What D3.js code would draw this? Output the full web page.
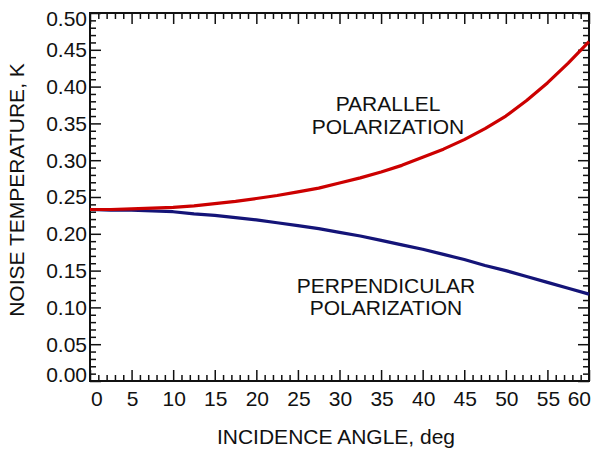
<!DOCTYPE html>
<html>
<head>
<meta charset="utf-8">
<script src="https://cdn.jsdelivr.net/npm/d3@7"></script>
<style>
  html, body { margin: 0; padding: 0; background: #fff; }
  svg text { font-family: "Liberation Sans", Arial, Helvetica, sans-serif; fill: #111; }
</style>
</head>
<body>
<svg id="chart" width="596" height="450"></svg>
<script>
// ---- data ----
const angles = [0, 2.5, 5, 7.5, 10, 12.5, 15, 17.5, 20, 22.5, 25, 27.5, 30, 32.5, 35, 37.5, 40, 42.5, 45, 47.5, 50, 52.5, 55, 57.5, 60];
const parallel = [0.233, 0.233, 0.234, 0.235, 0.236, 0.238, 0.241, 0.244, 0.248, 0.252, 0.257, 0.262, 0.269, 0.276, 0.284, 0.293, 0.304, 0.315, 0.328, 0.343, 0.360, 0.381, 0.405, 0.432, 0.461];
const perpendicular = [0.233, 0.232, 0.232, 0.231, 0.230, 0.227, 0.225, 0.222, 0.219, 0.215, 0.211, 0.207, 0.202, 0.197, 0.191, 0.185, 0.179, 0.172, 0.165, 0.157, 0.150, 0.142, 0.134, 0.126, 0.118];
const xTicks = [0, 5, 10, 15, 20, 25, 30, 35, 40, 45, 50, 55, 60];
const yTicks = [0.00, 0.05, 0.10, 0.15, 0.20, 0.25, 0.30, 0.35, 0.40, 0.45, 0.50];
const xTitle = "INCIDENCE ANGLE, deg";
const yTitle = "NOISE TEMPERATURE, K";
const labelParallel = ["PARALLEL", "POLARIZATION"];
const labelPerp = ["PERPENDICULAR", "POLARIZATION"];

// ---- layout ----
const L = 90, R = 589, T = 13, B = 381;
const svg = d3.select("#chart");
const x = d3.scaleLinear().domain([0, 60]).range([L, R]);
const y = d3.scaleLinear().domain([0, 0.5]).range([B, T]);

const majorLen = 11, minorLen = 6;
const xMinor = d3.range(0, 61, 1).filter(v => v % 5 !== 0);
const yMinor = d3.range(0, 51, 1).filter(v => v % 5 !== 0).map(v => v / 100);

function styleAxis(g) {
  g.select(".domain").remove();
  g.selectAll(".tick line").attr("stroke", "#111").attr("stroke-width", 1.5);
  g.selectAll(".tick text").remove();
}
// bottom
svg.append("g").attr("transform", `translate(0,${B})`)
  .call(d3.axisBottom(x).tickValues(xTicks).tickSize(-majorLen)).call(styleAxis);
svg.append("g").attr("transform", `translate(0,${B})`)
  .call(d3.axisBottom(x).tickValues(xMinor).tickSize(-minorLen)).call(styleAxis);
// top
svg.append("g").attr("transform", `translate(0,${T})`)
  .call(d3.axisTop(x).tickValues(xTicks).tickSize(-majorLen)).call(styleAxis);
svg.append("g").attr("transform", `translate(0,${T})`)
  .call(d3.axisTop(x).tickValues(xMinor).tickSize(-minorLen)).call(styleAxis);
// left
svg.append("g").attr("transform", `translate(${L},0)`)
  .call(d3.axisLeft(y).tickValues(yTicks).tickSize(-majorLen)).call(styleAxis);
svg.append("g").attr("transform", `translate(${L},0)`)
  .call(d3.axisLeft(y).tickValues(yMinor).tickSize(-minorLen)).call(styleAxis);
// right
svg.append("g").attr("transform", `translate(${R},0)`)
  .call(d3.axisRight(y).tickValues(yTicks).tickSize(-majorLen)).call(styleAxis);
svg.append("g").attr("transform", `translate(${R},0)`)
  .call(d3.axisRight(y).tickValues(yMinor).tickSize(-minorLen)).call(styleAxis);

// frame
svg.append("rect").attr("x", L).attr("y", T).attr("width", R - L).attr("height", B - T)
  .attr("fill", "none").attr("stroke", "#111").attr("stroke-width", 2);

// tick labels
const fs = 21;
svg.append("g").selectAll("text").data(xTicks).join("text")
  .attr("x", (d, i) => i === 0 ? x(d) + 1 : (i === xTicks.length - 1 ? x(d) + 2 : x(d) + 1))
  .attr("y", 399)
  .attr("dy", "0.35em")
  .attr("text-anchor", (d, i) => i === 0 ? "start" : (i === xTicks.length - 1 ? "end" : "middle"))
  .attr("font-size", fs)
  .text(d => d);
svg.append("g").selectAll("text").data(yTicks).join("text")
  .attr("x", L - 3)
  .attr("y", (d, i) => i === 0 ? y(d) - 6 : (i === yTicks.length - 1 ? y(d) + 6 : y(d)))
  .attr("dy", "0.35em")
  .attr("text-anchor", "end")
  .attr("font-size", fs)
  .text(d => d.toFixed(2));

// axis titles
svg.append("text").attr("x", 336).attr("y", 437).attr("dy", "0.35em")
  .attr("text-anchor", "middle").attr("font-size", fs).text(xTitle);
svg.append("text").attr("transform", "translate(17,190) rotate(-90)").attr("dy", "0.35em")
  .attr("text-anchor", "middle").attr("font-size", fs).text(yTitle);

// lines
const line = d3.line().x((d, i) => x(angles[i])).y(d => y(d));
svg.append("path").datum(perpendicular).attr("d", line)
  .attr("fill", "none").attr("stroke", "#141478").attr("stroke-width", 3.2).attr("stroke-linejoin", "round");
svg.append("path").datum(parallel).attr("d", line)
  .attr("fill", "none").attr("stroke", "#cc0000").attr("stroke-width", 3.2).attr("stroke-linejoin", "round");

// annotations
function annot(lines, cx, cy, gap) {
  svg.append("g").selectAll("text").data(lines).join("text")
    .attr("x", cx).attr("y", (d, i) => cy + i * gap).attr("dy", "0.35em")
    .attr("text-anchor", "middle").attr("font-size", fs).text(d => d);
}
annot(labelParallel, 388, 104, 23);
annot(labelPerp, 386, 286, 22);
</script>
</body>
</html>
